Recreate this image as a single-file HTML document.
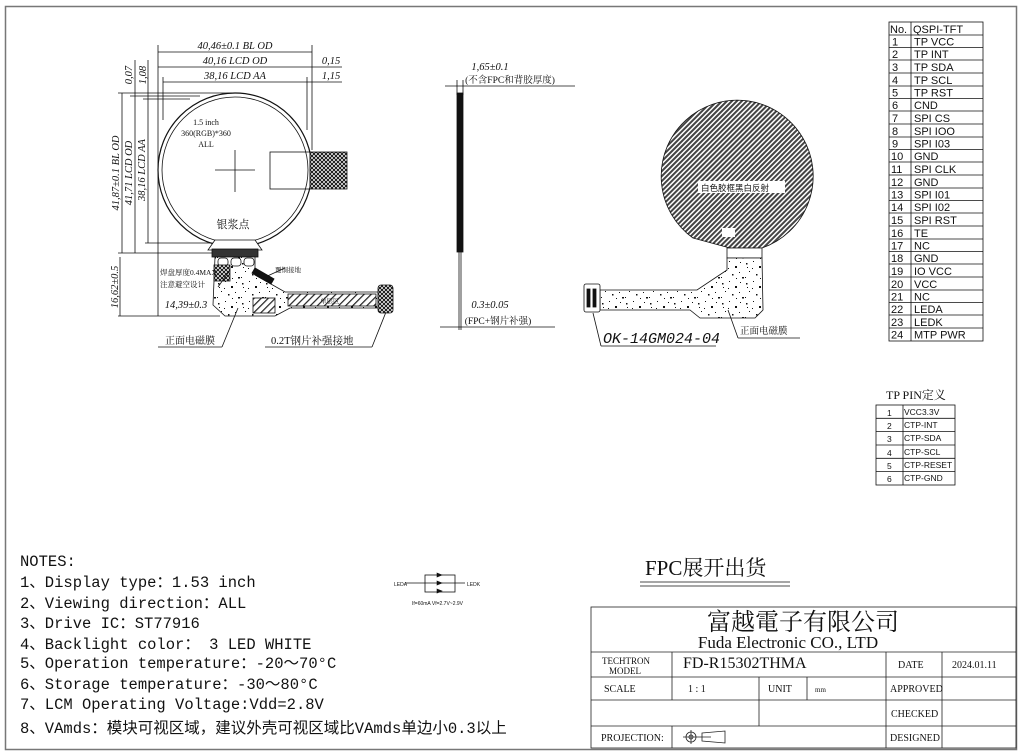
<!DOCTYPE html>
<html><head><meta charset="utf-8"><style>
html,body{margin:0;padding:0;background:#fff;}
svg{display:block;}
text{font-family:"Liberation Serif","Noto Serif CJK SC","Noto Sans CJK SC",serif;fill:#111;}
.m text,text.m{font-family:"Liberation Mono","Noto Sans CJK SC",monospace;}
.s text,text.s{font-family:"Liberation Sans","Noto Sans CJK SC",sans-serif;}
</style></head><body>
<svg width="1024" height="756" viewBox="0 0 1024 756" xmlns="http://www.w3.org/2000/svg">
<defs>
<pattern id="hat" width="3.5" height="3.5" patternUnits="userSpaceOnUse" patternTransform="rotate(45)">
<rect width="3.5" height="3.5" fill="#fff"/><rect width="2" height="3.5" fill="#444"/></pattern>
<pattern id="hat2" width="5" height="5" patternUnits="userSpaceOnUse" patternTransform="rotate(45)">
<rect width="5" height="5" fill="#fff"/><rect width="1.2" height="5" fill="#222"/></pattern>
<pattern id="xh" width="4" height="4" patternUnits="userSpaceOnUse">
<rect width="4" height="4" fill="#fff"/><path d="M0 0L4 4M4 0L0 4" stroke="#111" stroke-width="1"/></pattern>
<pattern id="dots" width="24" height="20" patternUnits="userSpaceOnUse">
<rect width="24" height="20" fill="#fff"/>
<g fill="#111"><rect x="2" y="3" width="1.5" height="1.5"/><rect x="9" y="1" width="1" height="1"/><rect x="15" y="6" width="2" height="2"/><rect x="20" y="2" width="1" height="1"/><rect x="5" y="11" width="1" height="1"/><rect x="12" y="14" width="1.5" height="1.5"/><rect x="19" y="12" width="1" height="1"/><rect x="1" y="17" width="1" height="1"/><rect x="8" y="8" width="1" height="1"/><rect x="22" y="17" width="2" height="1.5"/><rect x="16" y="18" width="1" height="1"/><rect x="3" y="7" width="1" height="1"/></g></pattern>
</defs>
<rect x="5.5" y="6.5" width="1011" height="743" fill="none" stroke="#777" stroke-width="1.5"/>

<g stroke="#111" stroke-width="0.8" fill="none">
<line x1="158" y1="52" x2="312" y2="52"/>
<line x1="158" y1="67" x2="342" y2="67"/>
<line x1="163" y1="82" x2="342" y2="82"/>
<line x1="158" y1="45" x2="158" y2="316"/>
<line x1="312" y1="45" x2="312" y2="150"/>
<line x1="163" y1="77" x2="163" y2="120"/>
<line x1="307" y1="77" x2="307" y2="130"/>
<line x1="122" y1="93" x2="122" y2="253"/>
<line x1="135" y1="60" x2="135" y2="253"/>
<line x1="148" y1="60" x2="148" y2="243"/>
<line x1="118" y1="93" x2="240" y2="93"/>
<line x1="130" y1="96" x2="200" y2="96"/>
<line x1="143" y1="99" x2="190" y2="99"/>
<line x1="145" y1="243" x2="222" y2="243"/>
<line x1="118" y1="253" x2="215" y2="253"/>
<line x1="120" y1="257" x2="120" y2="316"/>
<line x1="118" y1="316" x2="220" y2="316"/>
<circle cx="235" cy="170" r="77" stroke-width="1.2"/>
<circle cx="235" cy="170" r="73"/>
<line x1="215" y1="170" x2="255" y2="170"/><line x1="235" y1="150" x2="235" y2="192"/>
<rect x="270" y="152" width="40" height="37"/>
<rect x="310" y="152" width="37" height="37" fill="url(#xh)"/>
<path d="M208 250 L215 240 L255 240 L262 250 Z" fill="#fff"/>
<rect x="212" y="249" width="46" height="8" fill="#333"/>
<path d="M215 257 L255 257 L255 275 L285 292 L378 292 L378 308 L290 308 L275 316 L225 316 L213 305 Z" fill="url(#dots)"/>
<rect x="218" y="258" width="10" height="8" rx="3" fill="#fff"/><rect x="231" y="258" width="10" height="8" rx="3" fill="#fff"/><rect x="244" y="258" width="10" height="8" rx="3" fill="#fff"/>
<rect x="214" y="265" width="16" height="16" fill="url(#xh)"/>
<rect x="288" y="294" width="88" height="12" fill="url(#hat2)"/>
<rect x="378" y="285" width="15" height="28" rx="3" fill="url(#xh)"/>
<rect x="252" y="273" width="22" height="6" fill="#111" transform="rotate(30 263 276)"/>
<rect x="253" y="298" width="22" height="15" fill="url(#hat2)"/>
<line x1="218" y1="287" x2="230" y2="270"/>
<line x1="158" y1="347" x2="222" y2="347"/><line x1="222" y1="347" x2="238" y2="308"/>
<line x1="265" y1="347" x2="372" y2="347"/><line x1="372" y1="347" x2="386" y2="312"/>
<line x1="263" y1="278" x2="285" y2="268"/>
<line x1="445" y1="86" x2="575" y2="86"/>
<line x1="457" y1="80" x2="457" y2="95"/><line x1="463" y1="80" x2="463" y2="95"/>
<rect x="457" y="93" width="6" height="159" fill="#111"/>
<line x1="459" y1="252" x2="459" y2="330"/><line x1="461" y1="252" x2="461" y2="330"/>
<line x1="440" y1="327" x2="555" y2="327"/>
<path d="M693 238 A76 76 0 1 1 762 248 L730 248 Z" fill="url(#hat)"/>
<rect x="727" y="248" width="35" height="10" fill="#fff"/>
<path d="M727 258 L762 258 L763 310 L755 318 L700 318 L690 310 L600 310 L600 290 L697 290 L727 270 Z" fill="url(#dots)"/>
<rect x="584" y="284" width="16" height="28" rx="2" fill="#fff"/>
<rect x="587" y="289" width="3" height="18" fill="#111"/><rect x="593" y="289" width="3" height="18" fill="#111"/>
<line x1="593" y1="313" x2="601" y2="346"/><line x1="601" y1="346" x2="716" y2="346"/>
<line x1="738" y1="338" x2="800" y2="338"/><line x1="738" y1="338" x2="728" y2="310"/>
<line x1="405" y1="583" x2="465" y2="583"/>
<rect x="425" y="575" width="30" height="17"/>
<line x1="640" y1="582" x2="790" y2="582"/><line x1="640" y1="586" x2="790" y2="586"/>
</g>
<rect x="698" y="181" width="87" height="12" fill="#fff"/>
<rect x="722" y="228" width="13" height="9" fill="#fff"/>
<g fill="#111" stroke="#111" stroke-width="0.6">
<path d="M437 573 l5 2 l-5 2z"/><path d="M437 581 l5 2 l-5 2z"/><path d="M437 589 l5 2 l-5 2z"/>
</g>

<g font-size="10.5" font-style="italic" text-anchor="middle">
<text x="235" y="49">40,46±0.1 BL OD</text>
<text x="235" y="64">40,16 LCD OD</text>
<text x="235" y="79">38,16 LCD AA</text>
<text x="331" y="64">0,15</text>
<text x="331" y="79">1,15</text>
<text transform="translate(132 75) rotate(-90)">0,07</text>
<text transform="translate(146 75) rotate(-90)">1,08</text>
<text transform="translate(119 173) rotate(-90)">41,87±0.1 BL OD</text>
<text transform="translate(132 173) rotate(-90)">41,71 LCD OD</text>
<text transform="translate(145 170) rotate(-90)">38,16 LCD AA</text>
<text transform="translate(118 287) rotate(-90)">16,62±0.5</text>
<text x="186" y="308">14,39±0.3</text>
<text x="490" y="70">1,65±0.1</text>
<text x="490" y="308">0.3±0.05</text>
</g>
<g font-size="8" text-anchor="middle">
<text x="206" y="125">1.5 inch</text>
<text x="206" y="136">360(RGB)*360</text>
<text x="206" y="147">ALL</text>
</g>
<text x="233" y="228" font-size="11" text-anchor="middle">银浆点</text>
<text x="160" y="275" font-size="7.5">焊盘厚度0.4MAX</text>
<text x="160" y="287" font-size="7.5">注意避空设计</text>
<text x="275" y="272" font-size="6.5">覆铜接地</text>
<text x="320" y="303" font-size="6.5">单层区</text>
<text x="165" y="344" font-size="10">正面电磁膜</text>
<text x="271" y="344" font-size="10.5">0.2T钢片补强接地</text>
<text x="510" y="83" font-size="9.5" text-anchor="middle">(不含FPC和背胶厚度)</text>
<text x="498" y="324" font-size="9.5" text-anchor="middle">(FPC+钢片补强)</text>
<text x="701" y="191" font-size="8.5" class="s">白色胶框黑白反射</text>
<text x="603" y="343" font-size="15" font-style="italic" class="m">OK-14GM024-04</text>
<text x="740" y="334" font-size="9.5">正面电磁膜</text>

<text x="394" y="586" font-size="5" class="s">LEDA</text>
<text x="467" y="586" font-size="5" class="s">LEDK</text>
<text x="412" y="605" font-size="5" class="s">If=60mA  Vf=2.7V~2.9V</text>

<text x="645" y="575" font-size="21">FPC展开出货</text>

<g stroke="#111" stroke-width="0.8" fill="none">
<rect x="889" y="22" width="94" height="319"/>
<line x1="911" y1="22" x2="911" y2="341"/>
<path d="M889 35H983M889 47.5H983M889 60H983M889 73H983M889 86H983M889 98.5H983M889 111H983M889 124H983M889 137H983M889 149.5H983M889 162H983M889 175H983M889 188H983M889 200.5H983M889 213H983M889 226H983M889 239H983M889 251.5H983M889 264H983M889 277H983M889 290H983M889 302.5H983M889 315H983M889 328H983"/>
</g>
<g font-size="11" class="s">
<text x="890" y="33">No.</text><text x="913" y="33">QSPI-TFT</text>
<text x="892" y="45.5">1</text><text x="914" y="45.5">TP  VCC</text>
<text x="892" y="58">2</text><text x="914" y="58">TP  INT</text>
<text x="892" y="71">3</text><text x="914" y="71">TP  SDA</text>
<text x="892" y="84">4</text><text x="914" y="84">TP  SCL</text>
<text x="892" y="96.5">5</text><text x="914" y="96.5">TP  RST</text>
<text x="892" y="109">6</text><text x="914" y="109">CND</text>
<text x="892" y="122">7</text><text x="914" y="122">SPI  CS</text>
<text x="892" y="135">8</text><text x="914" y="135">SPI  IOO</text>
<text x="892" y="147.5">9</text><text x="914" y="147.5">SPI  I03</text>
<text x="891" y="160">10</text><text x="914" y="160">GND</text>
<text x="891" y="173">11</text><text x="914" y="173">SPI  CLK</text>
<text x="891" y="186">12</text><text x="914" y="186">GND</text>
<text x="891" y="198.5">13</text><text x="914" y="198.5">SPI  I01</text>
<text x="891" y="211">14</text><text x="914" y="211">SPI  I02</text>
<text x="891" y="224">15</text><text x="914" y="224">SPI  RST</text>
<text x="891" y="237">16</text><text x="914" y="237">TE</text>
<text x="891" y="249.5">17</text><text x="914" y="249.5">NC</text>
<text x="891" y="262">18</text><text x="914" y="262">GND</text>
<text x="891" y="275">19</text><text x="914" y="275">IO  VCC</text>
<text x="891" y="288">20</text><text x="914" y="288">VCC</text>
<text x="891" y="300.5">21</text><text x="914" y="300.5">NC</text>
<text x="891" y="313">22</text><text x="914" y="313">LEDA</text>
<text x="891" y="326">23</text><text x="914" y="326">LEDK</text>
<text x="891" y="338.5">24</text><text x="914" y="338.5">MTP  PWR</text>
</g>

<text x="886" y="399" font-size="12">TP PIN定义</text>
<g stroke="#111" stroke-width="0.8" fill="none">
<rect x="876" y="405" width="79" height="80"/>
<line x1="903" y1="405" x2="903" y2="485"/>
<path d="M876 418.3H955M876 431.6H955M876 445H955M876 458.3H955M876 471.6H955"/>
</g>
<g font-size="8.5" class="s">
<text x="887" y="416">1</text><text x="904" y="415">VCC3.3V</text>
<text x="887" y="429">2</text><text x="904" y="428">CTP-INT</text>
<text x="887" y="442">3</text><text x="904" y="441">CTP-SDA</text>
<text x="887" y="456">4</text><text x="904" y="455">CTP-SCL</text>
<text x="887" y="469">5</text><text x="904" y="468">CTP-RESET</text>
<text x="887" y="482">6</text><text x="904" y="481">CTP-GND</text>
</g>

<g font-size="15.5" class="m">
<text x="20" y="566">NOTES:</text>
<text x="20" y="587">1、Display type：1.53 inch</text>
<text x="20" y="608">2、Viewing direction：ALL</text>
<text x="20" y="628">3、Drive IC：ST77916</text>
<text x="20" y="649">4、Backlight color： 3 LED  WHITE</text>
<text x="20" y="668">5、Operation temperature：-20～70°C</text>
<text x="20" y="689">6、Storage temperature：-30～80°C</text>
<text x="20" y="709">7、LCM Operating Voltage:Vdd=2.8V</text>
<text x="20" y="733">8、VAmds：模块可视区域，建议外壳可视区域比VAmds单边小0.3以上</text>
</g>

<g stroke="#222" stroke-width="0.8" fill="none">
<rect x="591" y="607" width="425" height="141"/>
<path d="M591 652H1016M591 677H1016M591 700H1016M591 726H1016"/>
<path d="M672 652V677M672 677V700M672 726V748M759 677V726M807 677V700M886 652V748M942 652V748"/>
<circle cx="691" cy="737" r="5"/><circle cx="691" cy="737" r="2"/>
<path d="M683 737H711M691 730V744M702 733L725 731V743L702 741Z"/>
</g>
<text x="803" y="630" font-size="24" text-anchor="middle">富越電子有限公司</text>
<text x="788" y="648" font-size="17" text-anchor="middle">Fuda Electronic CO., LTD</text>
<text x="602" y="664" font-size="9">TECHTRON</text><text x="609" y="674" font-size="9">MODEL</text>
<text x="683" y="668" font-size="16">FD-R15302THMA</text>
<g font-size="10">
<text x="898" y="668">DATE</text>
<text x="952" y="668">2024.01.11</text>
<text x="604" y="692">SCALE</text>
<text x="688" y="692">1 : 1</text>
<text x="768" y="692">UNIT</text>
<text x="815" y="692" font-size="7">mm</text>
<text x="890" y="692">APPROVED</text>
<text x="891" y="717">CHECKED</text>
<text x="601" y="741">PROJECTION:</text>
<text x="890" y="741">DESIGNED</text>
</g>
</svg>
</body></html>
